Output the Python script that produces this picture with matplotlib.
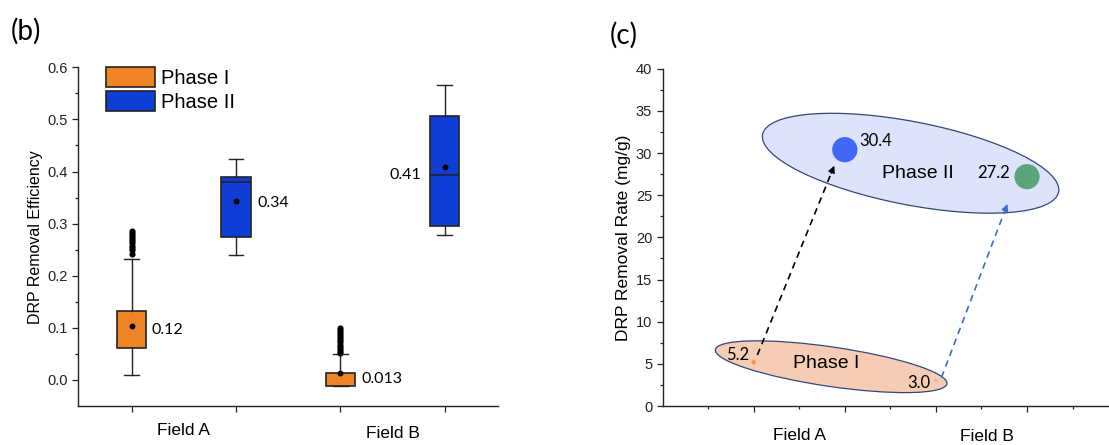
import numpy as np
import matplotlib
matplotlib.use("Agg")
import matplotlib.pyplot as plt
from matplotlib.patches import Patch, Ellipse
from matplotlib.ticker import MultipleLocator, FixedLocator, NullLocator
import matplotlib.transforms as mtrans

plt.rcParams['font.family'] = ['Liberation Sans', 'DejaVu Sans']
LABEL_FONT = ['Lato', 'DejaVu Sans']

# ---- panel (b): box statistics ----
box_pos = [1, 2, 3, 4]
box_phase = ['Phase I', 'Phase II', 'Phase I', 'Phase II']
box_q1 = [0.062, 0.274, -0.011, 0.296]
box_q3 = [0.133, 0.390, 0.014, 0.507]
box_med = [0.103, 0.380, 0.014, 0.394]
box_mean = [0.103, 0.344, 0.014, 0.408]
box_whislo = [0.010, 0.240, -0.011, 0.278]
box_whishi = [0.233, 0.424, 0.049, 0.566]
box_fliers = [
    [0.242, 0.250, 0.254, 0.258, 0.262, 0.266, 0.270, 0.274, 0.278, 0.282, 0.285],
    [],
    [0.052, 0.056, 0.060, 0.064, 0.068, 0.072, 0.076, 0.080, 0.084, 0.088, 0.092, 0.096, 0.100],
    [],
]
box_text = ['0.12', '0.34', '0.013', '0.41']

# ---- panel (c): removal rates ----
rate_pos = [1, 2, 3, 4]
rate_val = [5.2, 30.4, 3.0, 27.2]
rate_text = ['5.2', '30.4', '3.0', '27.2']
field_names = ['Field A', 'Field B']

c_orange = '#F08422'
c_blue = '#0E3ED6'

fig = plt.figure(figsize=(11.09, 4.45), dpi=100)
axb = fig.add_axes([0.0703, 0.0876, 0.3787, 0.7611])
axc = fig.add_axes([0.5975, 0.0876, 0.4025, 0.7580])

for ax in (axb, axc):
    for s in ('top', 'right'):
        ax.spines[s].set_visible(False)
    for s in ('left', 'bottom'):
        ax.spines[s].set_linewidth(1.0)
        ax.spines[s].set_color('#222222')
    ax.tick_params(which='major', length=4.5, width=0.9, color='#222222',
                   labelsize=10.5, labelcolor='#222222', pad=3)
    ax.tick_params(which='minor', length=2.2, width=0.9, color='#222222')
    ax.tick_params(axis='x', labelbottom=False)

# ---- (b) boxplots ----
stats = []
for i in range(4):
    stats.append(dict(q1=box_q1[i], q3=box_q3[i], med=box_med[i], mean=box_mean[i],
                      whislo=box_whislo[i], whishi=box_whishi[i], fliers=box_fliers[i]))

for phase, color, med_lw in (('Phase I', c_orange, 0), ('Phase II', c_blue, 1.2)):
    idx = [i for i in range(4) if box_phase[i] == phase]
    axb.bxp([stats[i] for i in idx], positions=[box_pos[i] for i in idx],
            widths=0.28, capwidths=0.14, patch_artist=True, showmeans=True,
            boxprops=dict(facecolor=color, edgecolor='#222222', linewidth=1.2),
            whiskerprops=dict(color='#222222', linewidth=1.0),
            capprops=dict(color='#222222', linewidth=1.0),
            medianprops=dict(color='#222222', linewidth=med_lw),
            meanprops=dict(marker='o', markerfacecolor='black', markeredgecolor='black',
                           markersize=3.2),
            flierprops=dict(marker='o', markerfacecolor='black', markeredgecolor='black',
                            markersize=3.4))

axb.set_xlim(0.485, 4.51)
axb.set_ylim(-0.05, 0.6)
axb.xaxis.set_major_locator(FixedLocator(box_pos))
axb.xaxis.set_minor_locator(NullLocator())
axb.yaxis.set_major_locator(FixedLocator([0, 0.1, 0.2, 0.3, 0.4, 0.5, 0.6]))
axb.yaxis.set_minor_locator(FixedLocator([0.05, 0.15, 0.25, 0.35, 0.45, 0.55]))
axb.yaxis.set_major_formatter(matplotlib.ticker.FormatStrFormatter('%.1f'))
axb.set_ylabel('DRP Removal Efficiency', fontsize=11.5, va='center')
axb.yaxis.set_label_coords(-0.1, 0.5)

offs_b = [(13.9, -2.6, 'left'), (15.8, -1.4, 'left'), (15.1, -4.3, 'left'), (-16.6, -5.8, 'right')]
for i in range(4):
    dx, dy, ha = offs_b[i]
    axb.annotate(box_text[i], (box_pos[i], box_mean[i]), xytext=(dx, dy),
                 textcoords='offset points', ha=ha, va='center', fontsize=11.5,
                 family=LABEL_FONT, color='black')

axb.text(1.5, -0.071, field_names[0], transform=axb.get_xaxis_transform(),
         ha='center', va='center', fontsize=12.5)
axb.text(3.5, -0.081, field_names[1], transform=axb.get_xaxis_transform(),
         ha='center', va='center', fontsize=12.5)

handles = [Patch(facecolor=c_orange, edgecolor='#222222', linewidth=1.2, label='Phase I'),
           Patch(facecolor=c_blue, edgecolor='#222222', linewidth=1.2, label='Phase II')]
axb.legend(handles=handles, loc='upper left', bbox_to_anchor=(0.0676, 1.0),
           frameon=False, fontsize=14.5, borderpad=0, borderaxespad=0,
           handlelength=2.4, handleheight=1.15, handletextpad=0.3, labelspacing=0.15)

fig.text(11 / 1109, 1 - 31 / 445, '(b)', fontsize=20, family=LABEL_FONT,
         ha='left', va='center')

# ---- (c) removal rate ----
def ellipse(ax, cx, cy, w_px, h_px, angle, color):
    tr = fig.dpi_scale_trans + mtrans.ScaledTranslation(cx, cy, ax.transData)
    e = Ellipse((0, 0), w_px / fig.dpi, h_px / fig.dpi, angle=angle, transform=tr,
                facecolor=color, edgecolor='#34477A', linewidth=0.9, zorder=1)
    ax.add_patch(e)

axc.set_xlim(0, 4.90)
axc.set_ylim(0, 40)
ellipse(axc, 2.722, 28.79, 301.6, 83.2, -11.0, '#DCE3FA')
ellipse(axc, 1.85, 4.66, 234.0, 39.5, -8.35, '#F6CDB4')

pt_colors = ['#F09A48', '#4068F6', '#E8B0A0', '#5AA57A']
pt_sizes = [10, 330, 6, 330]
axc.scatter(rate_pos, rate_val, s=pt_sizes, c=pt_colors, linewidths=0, zorder=4)

# dashed arrows from Phase I to Phase II
arrows = [((1.04, 6.05), (1.884, 28.5), 'black'),
          ((3.06, 3.36), (3.785, 23.96), '#3C6BD0')]
for (x0, y0), (x1, y1), col in arrows:
    axc.plot([x0, x1 - 0.02 * (x1 - x0)], [y0, y1 - 0.02 * (y1 - y0)], ls=(0, (4, 3)),
             color=col, lw=1.2, zorder=3)
    axc.annotate('', xy=(x1, y1), xytext=(x1 - 0.04 * (x1 - x0), y1 - 0.04 * (y1 - y0)),
                 arrowprops=dict(arrowstyle='-|>', color=col, lw=1.0, mutation_scale=10,
                                 shrinkA=0, shrinkB=0), zorder=3)

offs_c = [(-2.9, 5.5, 'right'), (10.1, 6.5, 'left'), (-4.3, -1.4, 'right'), (-12.2, 2.5, 'right')]
for i in range(4):
    dx, dy, ha = offs_c[i]
    axc.annotate(rate_text[i], (rate_pos[i], rate_val[i]), xytext=(dx, dy),
                 textcoords='offset points', ha=ha, va='center', fontsize=12,
                 family=LABEL_FONT, color='black', zorder=5)

axc.text(2.805, 27.6, 'Phase II', ha='center', va='center', fontsize=14, zorder=5)
axc.text(1.80, 5.06, 'Phase I', ha='center', va='center', fontsize=14, zorder=5)

axc.xaxis.set_major_locator(FixedLocator(rate_pos))
axc.xaxis.set_minor_locator(FixedLocator([0.5, 1.5, 2.5, 3.5, 4.5]))
axc.yaxis.set_major_locator(MultipleLocator(5))
axc.yaxis.set_minor_locator(MultipleLocator(2.5))
axc.set_ylabel('DRP Removal Rate (mg/g)', fontsize=12.5, va='center')
axc.yaxis.set_label_coords(-0.0887, 0.5)

axc.text(1.5, -0.086, field_names[0], transform=axc.get_xaxis_transform(),
         ha='center', va='center', fontsize=12.5)
axc.text(3.56, -0.091, field_names[1], transform=axc.get_xaxis_transform(),
         ha='center', va='center', fontsize=12.5)

fig.text(610 / 1109, 1 - 35 / 445, '(c)', fontsize=20, family=LABEL_FONT,
         ha='left', va='center')

fig.savefig('out.png', dpi=100)
